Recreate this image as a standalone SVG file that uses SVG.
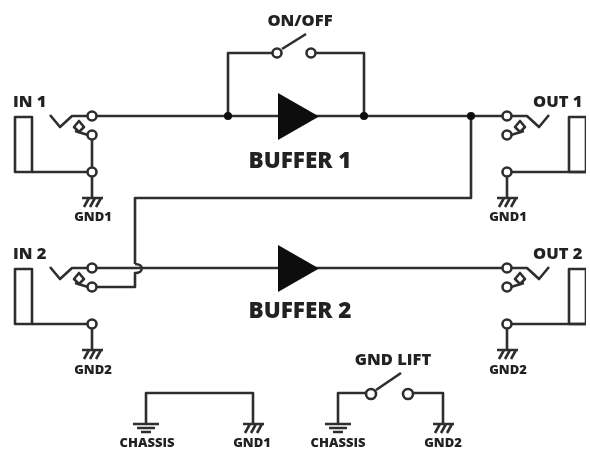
<svg xmlns="http://www.w3.org/2000/svg" width="590" height="451" viewBox="0 0 590 451">
<style>
.w{fill:none;stroke:#2e2e2e;stroke-width:2.6;stroke-linejoin:round}
.c{fill:#fff;stroke:#2e2e2e;stroke-width:2.6}
.d{fill:#0a0a0a}
.t{fill:#222;font-family:"Open Sans",sans-serif;font-weight:800}
.l{font-size:16.5px}
.s{font-size:13px}
.b{font-size:22.500px}
.m{font-size:16.500px}
</style>
<defs>
<filter id="soft" x="0" y="0" width="100%" height="100%"><feGaussianBlur stdDeviation="0.7"/></filter>
<g id="hatch"><path class="w" d="M-10 0H11M-8 9L-3 0M-2 9L3 0M4 9L9 0"/></g>
<g id="chassis"><path class="w" d="M-13 0H13M-9 4H9M-5 8H5"/></g>
<g id="jackL"><path class="w" d="M50 -1L60 11L72 0H88M75 15L88 19"/><path class="w" d="M79 5L84 11L79 16L74 11Z"/><circle class="c" cx="92" cy="0" r="4.5"/><circle class="c" cx="92" cy="19" r="4.5"/></g>
<g id="jackR"><path class="w" d="M549 -1L539 11L527 0H511M524 15L511 19"/><path class="w" d="M520 5L525 11L520 16L515 11Z"/><circle class="c" cx="507" cy="0" r="4.5"/><circle class="c" cx="507" cy="19" r="4.5"/></g>
</defs>
<rect width="590" height="451" fill="#fff"/>
<g filter="url(#soft)">
<g id="connectors">
<path class="w" d="M92 116H507"/>
<path class="w" d="M228 116V53H273M364 116V53H315"/>
<path class="w" d="M471 116V198H135V264"/>
<path class="w" d="M92 268H507"/>
<path class="w" d="M96 287H135V273C144 273 144 264 135 264"/>
<path class="w" d="M92 139V198M92 324V350"/>
<path class="w" d="M507 172V198M507 324V350"/>
<path class="w" d="M32 172H92M32 324H92M586 172H507M586 324H507"/>
<path class="w" d="M146 424V393H253V424"/>
<path class="w" d="M338 424V393H366M413 393H443V424"/>
</g>
<g id="in1"><rect class="w" x="15" y="117" width="17" height="55"/><use href="#jackL" y="116"/><circle class="c" cx="92" cy="172" r="4.5"/><use href="#hatch" x="92" y="198"/><text class="t l" x="13" y="107">IN 1</text><text class="t s" x="93" y="221" text-anchor="middle">GND1</text></g>
<g id="in2"><rect class="w" x="15" y="269" width="17" height="55"/><use href="#jackL" y="268"/><circle class="c" cx="92" cy="324" r="4.5"/><use href="#hatch" x="92" y="350"/><text class="t l" x="13" y="259">IN 2</text><text class="t s" x="93" y="374" text-anchor="middle">GND2</text></g>
<g id="out1"><rect class="w" x="569" y="117" width="17" height="55"/><use href="#jackR" y="116"/><circle class="c" cx="507" cy="172" r="4.5"/><use href="#hatch" x="507" y="198"/><text class="t l" x="533" y="107">OUT 1</text><text class="t s" x="508" y="221" text-anchor="middle">GND1</text></g>
<g id="out2"><rect class="w" x="569" y="269" width="17" height="55"/><use href="#jackR" y="268"/><circle class="c" cx="507" cy="324" r="4.5"/><use href="#hatch" x="507" y="350"/><text class="t l" x="533" y="259">OUT 2</text><text class="t s" x="508" y="374" text-anchor="middle">GND2</text></g>
<g id="onoff"><circle class="c" cx="277" cy="53" r="4.5"/><circle class="c" cx="311" cy="53" r="4.5"/><path class="w" d="M282 49L306 34"/><circle class="d" cx="228" cy="116" r="4"/><circle class="d" cx="364" cy="116" r="4"/><circle class="d" cx="471" cy="116" r="4"/><text class="t m" x="300" y="26" text-anchor="middle">ON/OFF</text></g>
<g id="buffer1"><path class="d" d="M278 93L319 116.500L278 140Z"/><text class="t b" x="300" y="168" text-anchor="middle">BUFFER 1</text></g>
<g id="buffer2"><path class="d" d="M278 245L319 268.500L278 292Z"/><text class="t b" x="300" y="318" text-anchor="middle">BUFFER 2</text></g>
<g id="bond"><use href="#chassis" x="146" y="424"/><use href="#hatch" x="253" y="424"/><text class="t s" x="147" y="447" text-anchor="middle">CHASSIS</text><text class="t s" x="252" y="447" text-anchor="middle">GND1</text></g>
<g id="gndlift"><circle class="c" cx="371" cy="394" r="5"/><circle class="c" cx="408" cy="394" r="5"/><path class="w" d="M376 390L401 373"/><use href="#chassis" x="338" y="424"/><use href="#hatch" x="443" y="424"/><text class="t m" x="393" y="365" text-anchor="middle">GND LIFT</text><text class="t s" x="338" y="447" text-anchor="middle">CHASSIS</text><text class="t s" x="443" y="447" text-anchor="middle">GND2</text></g>
</g>
</svg>
